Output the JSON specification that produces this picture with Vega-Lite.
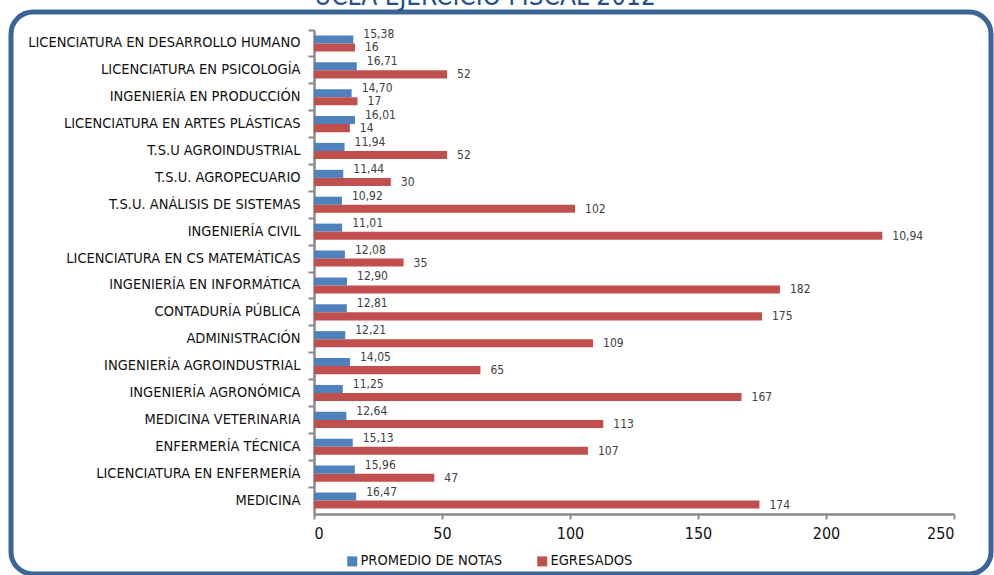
{
  "$schema": "https://vega.github.io/schema/vega-lite/v6.json",
  "width": 980,
  "height": 562,
  "autosize": {"type": "none"},
  "padding": {"left": 11, "top": 12, "right": 3, "bottom": 1},
  "background": "white",
  "title": {
    "text": "UCLA EJERCICIO FISCAL 2012",
    "fontSize": 26,
    "font": "Liberation Sans Narrow, DejaVu Sans Condensed, sans-serif",
    "fontWeight": "normal",
    "color": "#24508A",
    "baseline": "alphabetic",
    "offset": 0,
    "dy": 19,
    "dx": -16,
    "anchor": "middle"
  },
  "config": {
    "view": {"stroke": "#3C6496", "strokeWidth": 5, "cornerRadius": 22},
    "font": "Liberation Sans Narrow, DejaVu Sans Condensed, sans-serif"
  },
  "data": {
    "values": [
      {"carrera": "LICENCIATURA EN DESARROLLO HUMANO", "serie": "PROMEDIO DE NOTAS", "valor": 15.38, "etiqueta": "15,38"},
      {"carrera": "LICENCIATURA EN DESARROLLO HUMANO", "serie": "EGRESADOS", "valor": 16, "etiqueta": "16"},
      {"carrera": "LICENCIATURA EN PSICOLOGÍA", "serie": "PROMEDIO DE NOTAS", "valor": 16.71, "etiqueta": "16,71"},
      {"carrera": "LICENCIATURA EN PSICOLOGÍA", "serie": "EGRESADOS", "valor": 52, "etiqueta": "52"},
      {"carrera": "INGENIERÍA EN PRODUCCIÓN", "serie": "PROMEDIO DE NOTAS", "valor": 14.70, "etiqueta": "14,70"},
      {"carrera": "INGENIERÍA EN PRODUCCIÓN", "serie": "EGRESADOS", "valor": 17, "etiqueta": "17"},
      {"carrera": "LICENCIATURA EN ARTES PLÁSTICAS", "serie": "PROMEDIO DE NOTAS", "valor": 16.01, "etiqueta": "16,01"},
      {"carrera": "LICENCIATURA EN ARTES PLÁSTICAS", "serie": "EGRESADOS", "valor": 14, "etiqueta": "14"},
      {"carrera": "T.S.U AGROINDUSTRIAL", "serie": "PROMEDIO DE NOTAS", "valor": 11.94, "etiqueta": "11,94"},
      {"carrera": "T.S.U AGROINDUSTRIAL", "serie": "EGRESADOS", "valor": 52, "etiqueta": "52"},
      {"carrera": "T.S.U. AGROPECUARIO", "serie": "PROMEDIO DE NOTAS", "valor": 11.44, "etiqueta": "11,44"},
      {"carrera": "T.S.U. AGROPECUARIO", "serie": "EGRESADOS", "valor": 30, "etiqueta": "30"},
      {"carrera": "T.S.U. ANÁLISIS DE SISTEMAS", "serie": "PROMEDIO DE NOTAS", "valor": 10.92, "etiqueta": "10,92"},
      {"carrera": "T.S.U. ANÁLISIS DE SISTEMAS", "serie": "EGRESADOS", "valor": 102, "etiqueta": "102"},
      {"carrera": "INGENIERÍA CIVIL", "serie": "PROMEDIO DE NOTAS", "valor": 11.01, "etiqueta": "11,01"},
      {"carrera": "INGENIERÍA CIVIL", "serie": "EGRESADOS", "valor": 222, "etiqueta": "10,94"},
      {"carrera": "LICENCIATURA EN CS MATEMÁTICAS", "serie": "PROMEDIO DE NOTAS", "valor": 12.08, "etiqueta": "12,08"},
      {"carrera": "LICENCIATURA EN CS MATEMÁTICAS", "serie": "EGRESADOS", "valor": 35, "etiqueta": "35"},
      {"carrera": "INGENIERÍA EN INFORMÁTICA", "serie": "PROMEDIO DE NOTAS", "valor": 12.90, "etiqueta": "12,90"},
      {"carrera": "INGENIERÍA EN INFORMÁTICA", "serie": "EGRESADOS", "valor": 182, "etiqueta": "182"},
      {"carrera": "CONTADURÍA PÚBLICA", "serie": "PROMEDIO DE NOTAS", "valor": 12.81, "etiqueta": "12,81"},
      {"carrera": "CONTADURÍA PÚBLICA", "serie": "EGRESADOS", "valor": 175, "etiqueta": "175"},
      {"carrera": "ADMINISTRACIÓN", "serie": "PROMEDIO DE NOTAS", "valor": 12.21, "etiqueta": "12,21"},
      {"carrera": "ADMINISTRACIÓN", "serie": "EGRESADOS", "valor": 109, "etiqueta": "109"},
      {"carrera": "INGENIERÍA AGROINDUSTRIAL", "serie": "PROMEDIO DE NOTAS", "valor": 14.05, "etiqueta": "14,05"},
      {"carrera": "INGENIERÍA AGROINDUSTRIAL", "serie": "EGRESADOS", "valor": 65, "etiqueta": "65"},
      {"carrera": "INGENIERÍA AGRONÓMICA", "serie": "PROMEDIO DE NOTAS", "valor": 11.25, "etiqueta": "11,25"},
      {"carrera": "INGENIERÍA AGRONÓMICA", "serie": "EGRESADOS", "valor": 167, "etiqueta": "167"},
      {"carrera": "MEDICINA VETERINARIA", "serie": "PROMEDIO DE NOTAS", "valor": 12.64, "etiqueta": "12,64"},
      {"carrera": "MEDICINA VETERINARIA", "serie": "EGRESADOS", "valor": 113, "etiqueta": "113"},
      {"carrera": "ENFERMERÍA  TÉCNICA", "serie": "PROMEDIO DE NOTAS", "valor": 15.13, "etiqueta": "15,13"},
      {"carrera": "ENFERMERÍA  TÉCNICA", "serie": "EGRESADOS", "valor": 107, "etiqueta": "107"},
      {"carrera": "LICENCIATURA EN ENFERMERÍA", "serie": "PROMEDIO DE NOTAS", "valor": 15.96, "etiqueta": "15,96"},
      {"carrera": "LICENCIATURA EN ENFERMERÍA", "serie": "EGRESADOS", "valor": 47, "etiqueta": "47"},
      {"carrera": "MEDICINA", "serie": "PROMEDIO DE NOTAS", "valor": 16.47, "etiqueta": "16,47"},
      {"carrera": "MEDICINA", "serie": "EGRESADOS", "valor": 174, "etiqueta": "174"}
    ]
  },
  "encoding": {
    "y": {
      "field": "carrera",
      "type": "nominal",
      "sort": null,
      "scale": {"range": [18, 502], "paddingInner": 0.4, "paddingOuter": 0.2},
      "axis": {
        "title": null,
        "offset": -303,
        "bandPosition": -0.3333,
        "domainColor": "#8a8a8a",
        "domainWidth": 2.5,
        "tickColor": "#8a8a8a",
        "tickWidth": 2,
        "tickSize": 6,
        "labelFontSize": 14.5,
        "labelColor": "#111111",
        "labelPadding": 8,
        "labelLimit": 400
      }
    },
    "yOffset": {
      "field": "serie",
      "type": "nominal",
      "scale": {"domain": ["PROMEDIO DE NOTAS", "EGRESADOS"], "paddingInner": 0, "paddingOuter": 0}
    },
    "x": {
      "field": "valor",
      "type": "quantitative",
      "scale": {"domain": [0, 250], "range": [303, 943], "nice": false, "zero": true},
      "axis": {
        "title": null,
        "orient": "bottom",
        "offset": -60,
        "values": [0, 50, 100, 150, 200, 250],
        "grid": false,
        "domainColor": "#8a8a8a",
        "domainWidth": 2.5,
        "tickColor": "#8a8a8a",
        "tickWidth": 2,
        "tickSize": 5,
        "labelFontSize": 16,
        "labelColor": "#111111",
        "labelPadding": 6
      }
    }
  },
  "layer": [
    {
      "mark": {"type": "bar"},
      "encoding": {
        "color": {
          "field": "serie",
          "type": "nominal",
          "scale": {"domain": ["PROMEDIO DE NOTAS", "EGRESADOS"], "range": ["#4F81BD", "#C0504D"]},
          "legend": {
            "orient": "none",
            "legendX": 334,
            "legendY": 542,
            "direction": "horizontal",
            "title": null,
            "symbolType": "square",
            "symbolSize": 100,
            "symbolStrokeWidth": 0,
            "labelFontSize": 14.5,
            "labelColor": "#111111",
            "labelOffset": 1,
            "columnPadding": 33
          }
        }
      }
    },
    {
      "transform": [{"filter": "datum.serie === 'PROMEDIO DE NOTAS'"}],
      "mark": {"type": "text", "align": "left", "baseline": "middle", "dx": 10, "dy": -5, "fontSize": 12, "color": "#404040"},
      "encoding": {"text": {"field": "etiqueta"}}
    },
    {
      "transform": [{"filter": "datum.serie === 'EGRESADOS'"}],
      "mark": {"type": "text", "align": "left", "baseline": "middle", "dx": 10, "dy": 0, "fontSize": 12, "color": "#404040"},
      "encoding": {"text": {"field": "etiqueta"}}
    }
  ]
}
